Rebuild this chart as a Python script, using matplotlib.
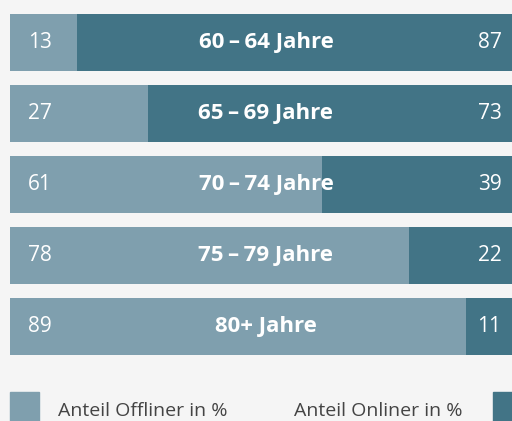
import matplotlib.pyplot as plt
from matplotlib.patches import Rectangle

groups = ['60\u2009–\u200964 Jahre', '65\u2009–\u200969 Jahre', '70\u2009–\u200974 Jahre',
          '75\u2009–\u200979 Jahre', '80+ Jahre']
offline = [13, 27, 61, 78, 89]
online = [87, 73, 39, 22, 11]

light = '#7f9fae'
dark = '#427486'
bg = '#f5f5f5'

plt.rcParams['font.family'] = ['Open Sans', 'DejaVu Sans']

W, H = 512, 421
fig = plt.figure(figsize=(W / 100, H / 100), dpi=100, facecolor=bg)
ax = fig.add_axes([10 / W, (H - 355) / H, 1 - 10 / W, (355 - 14) / H])
ax.set_facecolor(bg)

bar_h = 57 / 71
pos = range(len(groups))
ax.barh(pos, offline, height=bar_h, color=light)
ax.barh(pos, online, left=offline, height=bar_h, color=dark)

ax.set_xlim(0, 100 * 502 / 512)
ax.set_ylim(len(groups) - 1 + bar_h / 2, -bar_h / 2)
ax.axis('off')

for i, g in enumerate(groups):
    ax.text(50, i, g, ha='center', va='center',
            color='white', fontsize=16, fontweight='bold')
    ax.text(3.5, i, str(offline[i]), ha='left', va='center', color='white', fontsize=15)
    ax.text(96, i, str(online[i]), ha='right', va='center', color='white', fontsize=15)

# legend
fig.patches.append(Rectangle((10 / W, 0), 29 / W, (H - 392) / H,
                             transform=fig.transFigure, color=light))
fig.patches.append(Rectangle((493 / W, 0), 19 / W, (H - 392) / H,
                             transform=fig.transFigure, color=dark))
fig.text(58 / W, 5 / H, 'Anteil Offliner in %', ha='left', va='baseline',
         color='#444444', fontsize=14)
fig.text(463 / W, 5 / H, 'Anteil Onliner in %', ha='right', va='baseline',
         color='#444444', fontsize=14)

fig.savefig('out.png', dpi=100, facecolor=bg)
